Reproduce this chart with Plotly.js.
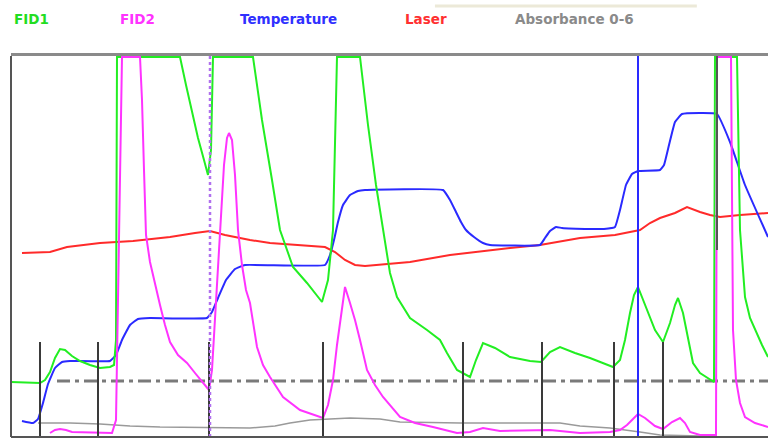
<!DOCTYPE html>
<html>
<head>
<meta charset="utf-8">
<script src="https://cdn.plot.ly/plotly-3.0.1.min.js"></script>
<style>
  html, body { margin: 0; padding: 0; background: #ffffff; }
  #chart { width: 768px; height: 438px; }
</style>
</head>
<body>
<div id="chart"></div>
<script>
// ---- data (time units, signal units) ----
const seriesNames = ['FID1', 'FID2', 'Temperature', 'Laser', 'Absorbance 0-6'];

const fid1Time = [0,29,34,39,44,49,54,61,69,79,89,99,103,105,106,169,175,181,187,193,197,200,202,242,251,261,269,282,296,311,317,322,326,349,357,365,372,379,386,399,416,429,436,446,459,465,472,484,499,519,530,539,549,564,579,594,602,609,614,619,623,627,634,644,652,659,664,667,672,677,682,689,699,703,704,726,729,734,739,744,751,757];
const fid1Vals = [55,54,57,65,79,88,87,81,76,72,69,70,72,97,380,380,352,325,299,277,262,287,380,380,317,257,207,170,154,135,157,207,380,380,312,252,207,164,140,119,107,97,84,67,60,77,94,89,80,76,75,85,90,84,79,73,70,77,97,124,142,150,132,107,95,114,132,139,124,97,74,64,57,55,380,380,207,140,119,107,92,80];

const fid2Time = [39,44,49,55,61,89,101,105,108,111,129,131,133,135,139,144,149,154,159,167,176,184,191,198,201,204,207,210,213,216,218,221,224,227,231,235,239,246,252,259,272,289,312,317,322,326,329,334,339,344,349,356,364,372,389,404,422,446,459,472,489,539,569,599,609,616,621,627,634,644,652,661,669,674,679,689,705,706,720,722,725,729,734,744,757];
const fid2Vals = [4,7,8,7,5,4,4,17,187,380,380,337,267,202,175,152,132,112,95,82,74,64,55,47,67,117,177,227,272,299,304,297,262,207,172,147,134,90,72,60,40,27,19,32,57,92,114,150,134,117,97,67,52,40,20,14,10,4,5,9,6,7,4,5,7,12,17,23,19,11,8,15,19,14,5,2,2,380,380,107,57,34,20,14,10];

const tempTime = [11,22,27,32,37,44,51,59,99,105,111,119,127,139,196,201,207,215,224,234,314,319,323,327,332,339,347,354,432,439,445,450,455,463,472,479,529,534,539,545,551,579,593,604,609,615,621,627,649,653,658,664,671,706,719,734,757];
const tempVals = [16,14,18,34,53,69,75,76,76,82,97,112,118,119,119,125,139,157,168,172,172,182,197,215,232,242,246,247,247,237,225,215,207,200,194,192,192,199,206,210,209,208,208,210,227,252,263,266,267,272,292,315,323,323,295,252,200];

const laserTime = [11,39,56,89,122,159,184,199,214,239,259,289,314,324,334,344,354,399,439,499,529,569,604,619,629,639,649,664,676,689,699,709,729,757];
const laserVals = [184,185,190,194,196,200,204,206,202,197,194,192,190,185,177,172,171,175,182,189,192,199,202,205,207,214,219,224,230,225,222,220,222,224];

const absTime = [27,59,89,119,149,239,264,279,299,339,369,389,449,499,549,569,599,629,649,689];
const absVals = [14,14,13,11,10,9,11,14,17,19,18,15,14,14,14,11,9,5,2,1];

// event markers, cursors, threshold
const eventTimes = [29,87,198,312,452,531,603,652];
const eventLevel = 95;
const injectTime = 199;
const cursorTime = 627;
const flagTime = 706;
const flagFrom = 187;
const thresholdLevel = 56;
const thresholdStart = 46;
const xMax = 757;
const yMax = 381;

// ---- styles ----
const colors = ['#22ee22', '#ff33ff', '#2a2aff', '#ff2a2a', '#9a9a9a'];
const labelColors = ['#22dd22', '#ff33ff', '#3030ff', '#ff3030', '#8a8a8a'];
const labelX = [1, 107, 227, 392, 502];

const traces = [
  {x: absTime, y: absVals, color: colors[4], w: 1.5, shape: 'linear'},
  {x: laserTime, y: laserVals, color: colors[3], w: 2, shape: 'linear'},
  {x: tempTime, y: tempVals, color: colors[2], w: 2, shape: 'spline'},
  {x: fid1Time, y: fid1Vals, color: colors[0], w: 2, shape: 'linear'},
  {x: fid2Time, y: fid2Vals, color: colors[1], w: 2, shape: 'linear'}
].map(s => ({
  type: 'scatter', mode: 'lines', x: s.x, y: s.y,
  line: {color: s.color, width: s.w, shape: s.shape, smoothing: 0.3},
  hoverinfo: 'skip', showlegend: false
}));

const shapes = [];
// threshold dash-dot
shapes.push({type: 'line', xref: 'x', yref: 'y', x0: thresholdStart, x1: xMax, y0: thresholdLevel, y1: thresholdLevel,
  line: {color: '#7a7a7a', width: 3, dash: '13px,5px,4px,5px'}, layer: 'below'});
// event markers
eventTimes.forEach(t => shapes.push({type: 'line', xref: 'x', yref: 'y', x0: t, x1: t, y0: 0, y1: eventLevel,
  line: {color: '#3a3a3a', width: 2}, layer: 'above'}));
// injection dotted line
shapes.push({type: 'line', xref: 'x', yref: 'y', x0: injectTime, x1: injectTime, y0: 0, y1: yMax,
  line: {color: '#b070ee', width: 2.5, dash: '3px,3px'}, layer: 'above'});
// cursor
shapes.push({type: 'line', xref: 'x', yref: 'y', x0: cursorTime, x1: cursorTime, y0: 0, y1: yMax,
  line: {color: '#2a2aff', width: 2}, layer: 'above'});
// flag
shapes.push({type: 'line', xref: 'x', yref: 'y', x0: flagTime, x1: flagTime, y0: flagFrom, y1: yMax,
  line: {color: '#555555', width: 2}, layer: 'above'});
// frame
shapes.push({type: 'line', xref: 'paper', yref: 'paper', x0: 0, x1: 1, y0: 1.004, y1: 1.004,
  line: {color: '#8a8a8a', width: 3}, layer: 'above'});
shapes.push({type: 'line', xref: 'paper', yref: 'paper', x0: 0, x1: 0, y0: 0, y1: 1,
  line: {color: '#555555', width: 2}, layer: 'above'});
shapes.push({type: 'line', xref: 'paper', yref: 'paper', x0: 0, x1: 1, y0: 0, y1: 0,
  line: {color: '#555555', width: 2}, layer: 'above'});
// beige strip at top
shapes.push({type: 'line', xref: 'paper', yref: 'paper', x0: 0.560, x1: 0.906, y0: 1.131, y1: 1.131,
  line: {color: '#ece9d8', width: 3}, layer: 'above'});

const annotations = seriesNames.map((name, i) => ({
  xref: 'x', yref: 'paper', x: labelX[i], y: 1.097, xanchor: 'left', yanchor: 'middle',
  text: '<b>' + name + '</b>', showarrow: false,
  font: {family: 'DejaVu Sans', size: 13.5, color: labelColors[i]}
}));

const layout = {
  width: 768, height: 438,
  margin: {l: 11, r: 0, t: 56, b: 1, pad: 0},
  paper_bgcolor: '#ffffff', plot_bgcolor: '#ffffff',
  showlegend: false,
  xaxis: {range: [0, xMax], showgrid: false, zeroline: false, showticklabels: false, showline: false, ticks: '', fixedrange: true},
  yaxis: {range: [0, yMax], showgrid: false, zeroline: false, showticklabels: false, showline: false, ticks: '', fixedrange: true},
  shapes: shapes,
  annotations: annotations
};

Plotly.newPlot('chart', traces, layout, {displayModeBar: false, staticPlot: true});
</script>
</body>
</html>
